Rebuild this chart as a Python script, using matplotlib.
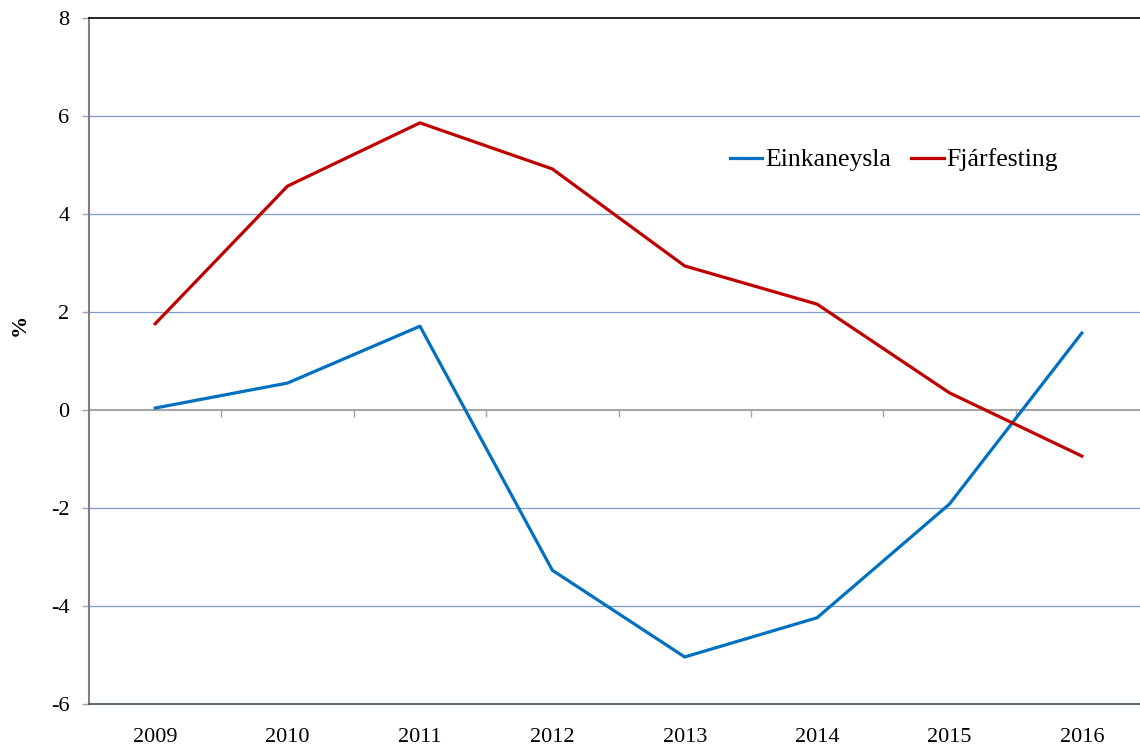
import matplotlib.pyplot as plt

years = ['2009', '2010', '2011', '2012', '2013', '2014', '2015', '2016']
einkaneysla = [0.04, 0.55, 1.71, -3.27, -5.04, -4.24, -1.92, 1.57]
fjarfesting = [1.76, 4.57, 5.86, 4.92, 2.94, 2.16, 0.35, -0.94]
y_ticks = [-6, -4, -2, 0, 2, 4, 6, 8]

plt.rcParams['font.family'] = ['Liberation Serif', 'DejaVu Serif']

fig = plt.figure(figsize=(11.4, 7.49), dpi=100)
ax = fig.add_axes([89 / 1140, 1 - 704 / 749, 1059 / 1140, 686 / 749])

x = list(range(len(years)))

# grid lines
for v in y_ticks:
    if v in (-6, 0, 8):
        continue
    ax.axhline(v, color='#7b9ccb', lw=0.9, zorder=1)
ax.axhline(0, color='#a6a6a6', lw=1.5, zorder=1)

ax.plot(x, einkaneysla, color='#0070c0', lw=2.3, label='Einkaneysla', zorder=3)
ax.plot(x, fjarfesting, color='#c00000', lw=2.3, label='Fjárfesting', zorder=3)

ax.set_xlim(-0.5, len(years) - 0.5)
ax.set_ylim(-6, 8)
ax.set_yticks(y_ticks)
ax.set_yticklabels([str(v) for v in y_ticks])
ax.tick_params(axis='y', direction='out', length=5, width=1, color='#a6a6a6',
               labelsize=16, pad=9)
ax.set_xticks(x)
ax.set_xticklabels(years)
ax.tick_params(axis='x', length=0, labelsize=16, pad=17)

ax.spines['right'].set_visible(False)
ax.spines['top'].set_color('black')
ax.spines['top'].set_linewidth(1.2)
ax.spines['bottom'].set_color('#3f4f5f')
ax.spines['bottom'].set_linewidth(1.2)
ax.spines['left'].set_color('#808080')
ax.spines['left'].set_linewidth(1.5)

# category separators on the zero axis
sec = ax.secondary_xaxis(6 / 14)
sec.set_xticks([i + 0.5 for i in x[:-1]])
sec.set_xticklabels([])
sec.tick_params(direction='out', length=5, width=1, color='#a6a6a6')
sec.spines['bottom'].set_visible(False)
sec.spines['top'].set_visible(False)

fig.text(20 / 1140, 1 - 325 / 749, '%', rotation=90, fontsize=16,
         fontweight='bold', ha='center', va='center')

fig.legend(loc='center', bbox_to_anchor=(894 / 1140, 1 - 160 / 749), ncol=2,
           frameon=False, fontsize=18.5, handlelength=1.25, handletextpad=0.12,
           columnspacing=0.8)

fig.savefig('out.png', dpi=100)
